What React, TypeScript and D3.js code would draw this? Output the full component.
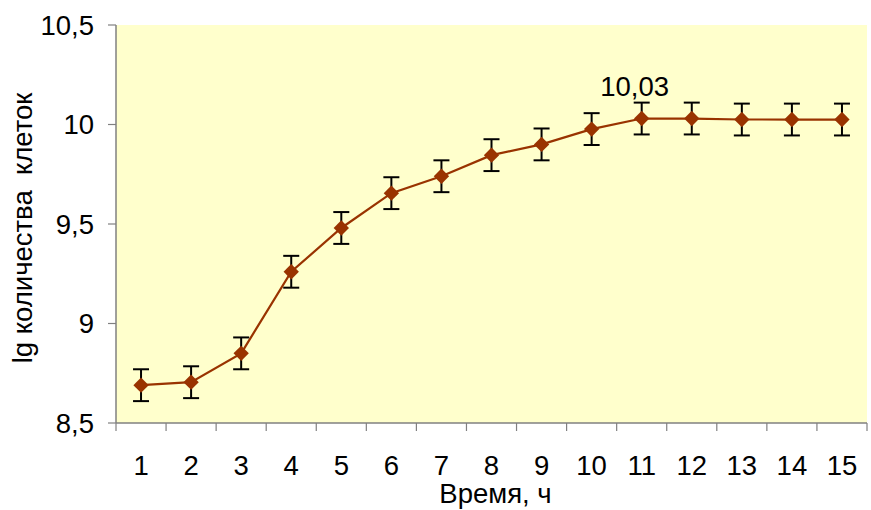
import * as d3 from 'd3';

const hours = ['1', '2', '3', '4', '5', '6', '7', '8', '9', '10', '11', '12', '13', '14', '15'];
const lgCells = [8.69, 8.705, 8.85, 9.26, 9.48, 9.655, 9.74, 9.846, 9.9, 9.977, 10.03, 10.03, 10.025, 10.025, 10.025];
const errors = [0.08, 0.08, 0.08, 0.08, 0.08, 0.08, 0.08, 0.08, 0.08, 0.08, 0.08, 0.08, 0.08, 0.08, 0.08];
const yTicks = [8.5, 9, 9.5, 10, 10.5];
const annotatedIndex = 10;

const W = 871;
const H = 510;
const margin = { top: 25, right: 4, bottom: 87, left: 116 };
const FONT = 'Liberation Sans, Arial, sans-serif';
const FS = 27.5;

export default function App() {
  const iw = W - margin.left - margin.right;
  const ih = H - margin.top - margin.bottom;

  const x = d3.scaleBand().domain(hours).range([0, iw]).paddingInner(0).paddingOuter(0);
  const y = d3.scaleLinear().domain([8.5, 10.5]).range([ih, 0]);
  const cx = (h: string) => (x(h) ?? 0) + x.bandwidth() / 2;

  const line = d3.line<number>()
    .x((_, i) => cx(hours[i]))
    .y(d => y(d));

  const diamond = d3.symbol().type(d3.symbolDiamond2).size(150)();

  const fmt = (v: number) => String(v).replace('.', ',');
  const boundaries = [...hours.map(h => x(h) ?? 0), iw];

  return (
    <svg width={W} height={H} style={{ position: 'absolute', left: 0, top: 0, background: '#fff' }}>
      <g transform={`translate(${margin.left},${margin.top})`}>
        <rect x={0} y={0} width={iw} height={ih} fill="#FFFFCC" />

        {/* y axis */}
        <line x1={0} x2={0} y1={0} y2={ih} stroke="#808080" strokeWidth={1.5} />
        {yTicks.map(t => (
          <g key={t} transform={`translate(0,${y(t)})`}>
            <line x1={-8} x2={0} stroke="#808080" strokeWidth={1.2} />
            <text x={-22} dy="0.35em" textAnchor="end" fontFamily={FONT} fontSize={FS} fill="#000">
              {fmt(t)}
            </text>
          </g>
        ))}

        {/* x axis */}
        <line x1={0} x2={iw} y1={ih} y2={ih} stroke="#808080" strokeWidth={1.5} />
        {boundaries.map((b, i) => (
          <line key={i} x1={b} x2={b} y1={ih} y2={ih + 8} stroke="#808080" strokeWidth={1.2} />
        ))}
        {hours.map(h => (
          <text key={h} x={cx(h)} y={ih + 52} textAnchor="middle" fontFamily={FONT} fontSize={FS} fill="#000">
            {h}
          </text>
        ))}

        {/* series */}
        <path d={line(lgCells) ?? ''} fill="none" stroke="#993300" strokeWidth={2.2} />
        {lgCells.map((v, i) => {
          const px = cx(hours[i]);
          const top = y(v + errors[i]);
          const bot = y(v - errors[i]);
          return (
            <g key={i}>
              <line x1={px} x2={px} y1={top} y2={bot} stroke="#000" strokeWidth={2} />
              <line x1={px - 8} x2={px + 8} y1={top} y2={top} stroke="#000" strokeWidth={2} />
              <line x1={px - 8} x2={px + 8} y1={bot} y2={bot} stroke="#000" strokeWidth={2} />
              <path d={diamond ?? ''} transform={`translate(${px},${y(v)})`} fill="#993300" />
            </g>
          );
        })}

        <text
          x={cx(hours[annotatedIndex]) - 7}
          y={y(lgCells[annotatedIndex]) - 23}
          textAnchor="middle"
          fontFamily={FONT}
          fontSize={FS}
          fill="#000"
        >
          {fmt(lgCells[annotatedIndex])}
        </text>
      </g>

      <text x={margin.left + iw / 2 + 4} y={H - 7} textAnchor="middle" fontFamily={FONT} fontSize={FS} fill="#000">
        Время, ч
      </text>
      <text
        transform={`translate(32,${margin.top + ih / 2 + 4}) rotate(-90)`}
        textAnchor="middle"
        fontFamily={FONT}
        fontSize={FS}
        fill="#000"
        style={{ whiteSpace: 'pre' }}
      >
        {'lg количества  клеток'}
      </text>
    </svg>
  );
}
